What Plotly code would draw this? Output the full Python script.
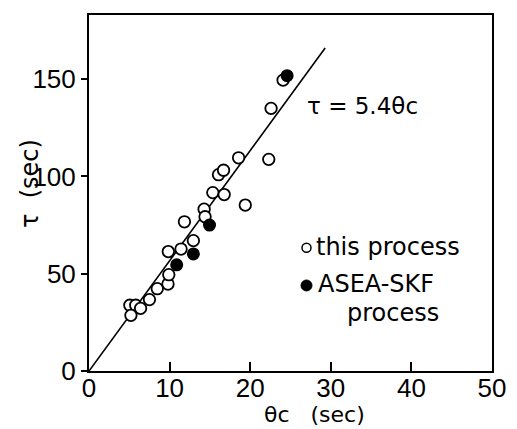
import plotly.graph_objects as go

# open circles: "this process"
this_x = [5.07, 5.8, 5.2, 6.4, 7.5, 8.47, 9.8, 9.9, 9.84, 11.42, 12.95, 11.84,
          14.28, 14.4, 15.36, 16.77, 16.07, 16.69, 18.56, 19.39, 22.3, 22.59, 24.08]
this_y = [33.8, 33.8, 28.6, 32.2, 36.7, 42.3, 44.7, 49.5, 61.4, 62.7, 67.0, 76.7,
          83.2, 79.3, 91.7, 90.7, 100.9, 103.2, 109.6, 85.3, 108.8, 135.0, 149.5]

# filled circles: "ASEA-SKF process"
asea_x = [10.88, 12.95, 14.95, 24.58]
asea_y = [54.6, 60.2, 75.0, 151.8]

# fitted line tau = 5.4 theta_c (as drawn)
fit_x = [0, 29.3]
fit_y = [0, 166]

x_ticks = [0, 10, 20, 30, 40, 50]
y_ticks = [0, 50, 100, 150]

TXT = "DejaVu Sans"
TICK = "Liberation Sans"

# page has an 8px body margin: figure placed at (8,8)
W, H = 509, 421
L, R, T, B = 81, 25, 5, 58
PW, PH = W - L - R, H - T - B


def px2paper(px, py):
    # px, py are page pixel coordinates
    return (px - 8 - L) / PW, (H - B - (py - 8)) / PH


fig = go.Figure()
fig.add_trace(go.Scatter(x=fit_x, y=fit_y, mode="lines",
                         line=dict(color="black", width=1.6), showlegend=False))
fig.add_trace(go.Scatter(x=this_x, y=this_y, mode="markers", showlegend=False,
                         marker=dict(size=11.5, color="white",
                                     line=dict(color="black", width=1.8))))
fig.add_trace(go.Scatter(x=asea_x, y=asea_y, mode="markers", showlegend=False,
                         marker=dict(size=11.5, color="black",
                                     line=dict(color="black", width=1.5))))

fig.update_layout(
    width=W, height=H,
    margin=dict(l=L, r=R, t=T, b=B),
    paper_bgcolor="white", plot_bgcolor="white",
    font=dict(family=TXT, color="black", size=22),
    xaxis=dict(range=[0, 50], tickvals=x_ticks, ticks="inside", ticklen=9,
               tickwidth=1.5, tickcolor="black", showgrid=False, zeroline=False,
               showline=True, linecolor="black", linewidth=2, mirror=True,
               ticklabelstandoff=-7,
               tickfont=dict(size=26, family=TICK)),
    yaxis=dict(range=[0, 183], tickvals=y_ticks, ticks="outside", ticklen=6,
               tickwidth=1.5, tickcolor="black", showgrid=False, zeroline=False,
               showline=True, linecolor="black", linewidth=2, mirror=True,
               tickfont=dict(size=26, family=TICK)),
)

NB = "\u00a0"
items = [
    ("θc" + NB * 3 + "(sec)", 314, 415, "center", 0, 22),
    ("τ" + NB * 2 + "(sec)", 30, 183, "center", -90, 24),
    ("τ" + NB + "=" + NB + "5.4θc", 362, 105, "center", 0, 23),
    ("this process", 314, 246, "left", 0, 24),
    ("ASEA-SKF", 316, 284, "left", 0, 24),
    ("process", 345, 313, "left", 0, 24),
]
ann = []
for text, px, py, xa, ang, sz in items:
    x, y = px2paper(px, py)
    ann.append(dict(text=text, x=x, y=y, xref="paper", yref="paper",
                    xanchor=xa, yanchor="middle", showarrow=False,
                    textangle=ang, font=dict(size=sz, family=TXT)))
fig.update_layout(annotations=ann)

# legend keys
cx, cy = px2paper(306.5, 247)
rx, ry = 4.5 / PW, 4.5 / PH
fig.add_shape(type="circle", xref="paper", yref="paper",
              x0=cx - rx, x1=cx + rx, y0=cy - ry, y1=cy + ry,
              line=dict(color="black", width=1.5), fillcolor="white")
cx, cy = px2paper(306.5, 285)
rx, ry = 5.5 / PW, 5.5 / PH
fig.add_shape(type="circle", xref="paper", yref="paper",
              x0=cx - rx, x1=cx + rx, y0=cy - ry, y1=cy + ry,
              line=dict(color="black", width=1), fillcolor="black")

fig.write_html("out.html")
